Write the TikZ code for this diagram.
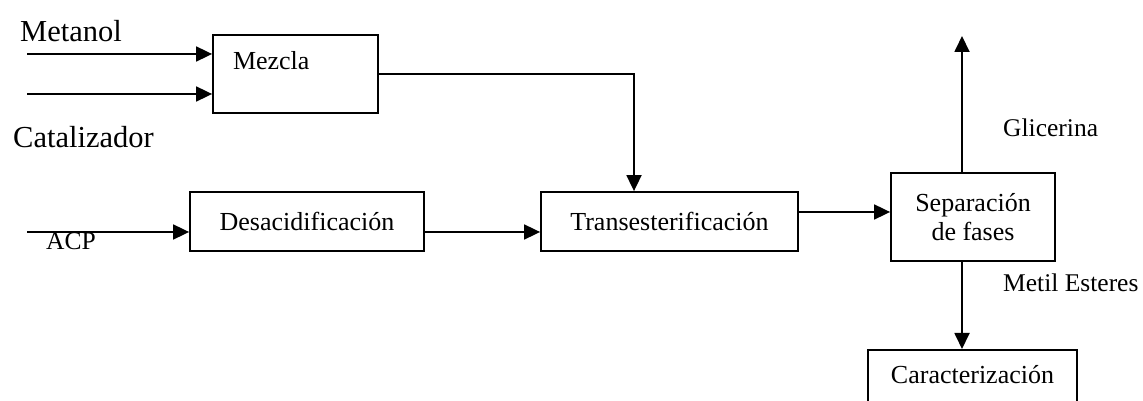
\documentclass[tikz,border=0pt]{standalone}
\usepackage{fontspec}
\setmainfont{Liberation Serif}
\usetikzlibrary{arrows.meta,calc}
\begin{document}
\begin{tikzpicture}[x=1pt,y=1pt,
  box/.style={draw=black,line width=1.8pt,rectangle,inner sep=0pt,font=\fontsize{26}{29}\selectfont},
  lbl/.style={inner sep=0pt,anchor=base west,font=\fontsize{25.5}{29}\selectfont},
  biglbl/.style={inner sep=0pt,anchor=base west,font=\fontsize{30.5}{34}\selectfont},
  flow/.style={line width=1.8pt,-{Triangle[length=16pt,width=15pt]}}]
\clip (0,0) rectangle (1143,401);
\fill[white] (0,0) rectangle (1143,401);
% boxes
\node[box,minimum width=165pt,minimum height=78pt,text width=125pt,align=left,inner xsep=20pt,inner ysep=5pt,text height=30pt,text depth=38pt] (mezcla) at (295.5,327) {Mezcla};
\node[box,minimum width=234pt,minimum height=59pt] (desac) at (307,179.5) {Desacidificación};
\node[box,minimum width=257pt,minimum height=59pt] (trans) at (669.5,179.5) {Transesterificación};
\node[box,minimum width=164pt,minimum height=88pt,align=center] (sep) at (973,184) {Separación\\de fases};
\node[box,minimum width=209pt,anchor=north,inner ysep=8pt,text height=26pt,text depth=50pt] (caract) at (972.5,52) {Caracterización};
% labels
\node[biglbl] (metanol) at (20,359) {Metanol};
\node[biglbl] (catal) at (13,253) {Catalizador};
\node[lbl] (acp) at (46,151) {ACP};
\node[lbl] (glic) at (1003,264) {Glicerina};
\node[lbl] (metil) at (1003,109) {Metil Esteres};
% free ends
\coordinate (m1) at (27,347);
\coordinate (m2) at (27,307);
\coordinate (a1) at (27,169);
\coordinate (g) at (962,365);
\coordinate (t1) at ([yshift=9.5pt]trans.east);
% connectors
\draw[flow] (m1) -- (mezcla.west |- m1);
\draw[flow] (m2) -- (mezcla.west |- m2);
\draw[flow] (mezcla.east) -| ([xshift=-35.5pt]trans.north);
\draw[flow] (a1) -- (desac.west |- a1);
\draw[flow] ([yshift=-10.5pt]desac.east) -- ([yshift=-10.5pt]trans.west);
\draw[flow] (t1) -- (sep.west |- t1);
\draw[flow] (sep.north -| g) -- (g);
\draw[flow] (sep.south -| g) -- (caract.north -| g);
\end{tikzpicture}
\end{document}
